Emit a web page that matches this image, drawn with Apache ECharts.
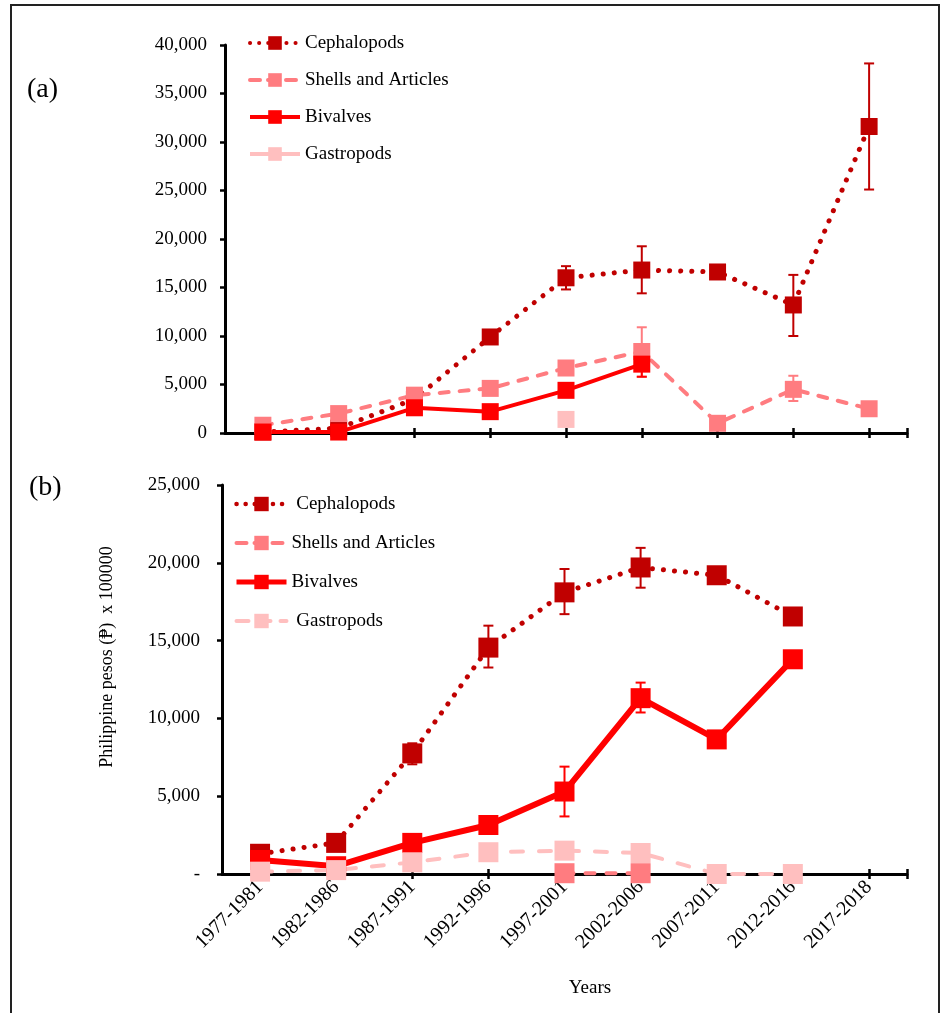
<!DOCTYPE html>
<html>
<head>
<meta charset="utf-8">
<script src="https://cdn.jsdelivr.net/npm/echarts@6.0.0/dist/echarts.min.js"></script>
<style>
html,body{margin:0;padding:0;background:#fff;}
#chart{width:941px;height:1013px;}
</style>
</head>
<body>
<div id="chart"></div>
<script>
// ---------- data ----------
const categories = ['1977-1981','1982-1986','1987-1991','1992-1996','1997-2001','2002-2006','2007-2011','2012-2016','2017-2018'];

// Panel (a)
const cephA    = [100, 500, 3500, 9900, 16000, 16800, 16600, 13200, 31600];
const shellsA  = [800, 2000, 3900, 4600, 6700, 8400, 1000, 4500, 2500];
const bivalvesA= [100, 100, 2600, 2200, 4400, 7100, null, null, null];
const gastroA  = [null, null, null, null, 1400, null, null, null, null];
// error bars [categoryIndex, low, high]
const cephErrA    = [[4, 14800, 17200], [5, 14400, 19250], [7, 10000, 16300], [8, 25100, 38100]];
const shellsErrA  = [[5, 5800, 10900], [7, 3300, 5900]];
const bivalvesErrA= [[5, 5800, 8400]];

// Panel (b)
const cephB    = [1300, 2000, 7750, 14550, 18100, 19700, 19200, 16550, null];
const shellsB  = [null, null, null, null, 50, 50, null, null, null];
const bivalvesB= [900, 500, 2000, 3150, 5300, 11300, 8650, 13800, null];
const gastroB  = [150, 250, 750, 1400, 1500, 1350, 0, 0, null];
const cephErrB    = [[2, 7050, 8400], [3, 13270, 15960], [4, 16700, 19600], [5, 18400, 20960]];
const bivalvesErrB= [[4, 3700, 6900], [5, 10380, 12300]];

const tickLabelsA = ['0','5,000','10,000','15,000','20,000','25,000','30,000','35,000','40,000'];
const tickLabelsB = ['-','5,000','10,000','15,000','20,000','25,000'];

// ---------- styles ----------
const FONT = 'Liberation Serif, Times New Roman, serif';
const C_CEPH = '#C00000', C_SHELL = '#FF7C80', C_BIV = '#FF0000', C_GAS = '#FFBFBF';

function errSeries(data, color, xi, yi, cap) {
  return {
    type: 'custom', xAxisIndex: xi, yAxisIndex: yi, silent: true, z: 3,
    data: data, encode: {x: 0, y: [1, 2]},
    renderItem: function (params, api) {
      const x = api.value(0);
      const lo = api.coord([x, api.value(1)]);
      const hi = api.coord([x, api.value(2)]);
      const st = {stroke: color, lineWidth: 2};
      return {type: 'group', children: [
        {type: 'line', shape: {x1: lo[0], y1: lo[1], x2: hi[0], y2: hi[1]}, style: st},
        {type: 'line', shape: {x1: lo[0]-cap, y1: lo[1], x2: lo[0]+cap, y2: lo[1]}, style: st},
        {type: 'line', shape: {x1: hi[0]-cap, y1: hi[1], x2: hi[0]+cap, y2: hi[1]}, style: st}
      ]};
    }
  };
}

function lineSeries(name, data, color, lineStyle, xi, yi, size) {
  return {
    name: name, type: 'line', data: data, xAxisIndex: xi, yAxisIndex: yi,
    symbol: 'rect', symbolSize: size, showAllSymbol: true, clip: false,
    itemStyle: {color: color},
    lineStyle: Object.assign({color: color}, lineStyle),
    emphasis: {disabled: true}, animation: false
  };
}

const dotted = (w) => ({width: w, type: [0.1, 11], cap: 'round'});
const dashed = (w, d) => ({width: w, type: d, cap: 'round'});
const solid  = (w) => ({width: w, type: 'solid'});

const TICK = {color: '#000', width: 2.5};
const axisLineStyle = {color: '#000', width: 3};

// tick positions along the category axis: centre of each category, plus the far end
const xTickPos = categories.map((c, i) => i + 0.5).concat([categories.length]);

const xMain = (gi, showLabels) => ({
  type: 'category', gridIndex: gi, data: categories, boundaryGap: true,
  axisLine: {show: true, lineStyle: axisLineStyle, onZero: false},
  axisTick: {show: false},
  axisLabel: showLabels ? {show: true, rotate: 45, fontFamily: FONT, fontSize: 20, color: '#000', margin: 10} : {show: false},
  splitLine: {show: false}
});
const xTicks = (gi, inside) => ({
  type: 'value', gridIndex: gi, min: 0, max: categories.length, position: 'bottom',
  axisLine: {show: false}, axisLabel: {show: false}, splitLine: {show: false},
  axisTick: {show: true, inside: inside, length: 5, lineStyle: TICK, customValues: xTickPos}
});
const yMain = (gi, max, labels, margin) => ({
  type: 'value', gridIndex: gi, min: 0, max: max, interval: 5000,
  axisLine: {show: true, lineStyle: axisLineStyle},
  axisTick: {show: true, length: 5, lineStyle: TICK},
  axisLabel: {fontFamily: FONT, fontSize: 19, color: '#000', margin: margin,
    formatter: (v) => labels[Math.round(v / 5000)]},
  splitLine: {show: false}
});
const yInside = (gi, max) => ({
  type: 'value', gridIndex: gi, min: 0, max: max, interval: 5000,
  axisLine: {show: false}, axisLabel: {show: false}, splitLine: {show: false},
  axisTick: {show: true, inside: true, length: 5, lineStyle: TICK}
});

const legText = {fontFamily: FONT, fontSize: 19, color: '#000', lineHeight: 20};

const option = {
  backgroundColor: '#fff',
  animation: false,
  graphic: [
    {type: 'rect', shape: {x: 11, y: 5, width: 928, height: 1020}, style: {fill: 'none', stroke: '#222', lineWidth: 2}, silent: true},
    {type: 'text', x: 27, y: 90, style: {text: '(a)', font: '28px ' + FONT, fill: '#000', verticalAlign: 'middle'}},
    {type: 'text', x: 29, y: 488, style: {text: '(b)', font: '28px ' + FONT, fill: '#000', verticalAlign: 'middle'}},
    {type: 'text', x: 107, y: 657, rotation: Math.PI / 2, style: {text: 'Philippine pesos (₱)  x 100000', font: '18px ' + FONT, fill: '#000', align: 'center', verticalAlign: 'middle'}},
    {type: 'text', x: 590, y: 988, style: {text: 'Years', font: '19px ' + FONT, fill: '#000', align: 'center', verticalAlign: 'middle'}}
  ],
  legend: [
    {
      orient: 'vertical', left: 243, top: 28, itemWidth: 50, itemHeight: 17, itemGap: 17,
      textStyle: legText, selectedMode: false,
      data: [
        {name: 'Cephalopods', lineStyle: {width: 4, type: [0.1, 9], cap: 'round'}},
        {name: 'Shells and Articles', lineStyle: {width: 4, type: [10, 8], cap: 'round'}},
        {name: 'Bivalves', lineStyle: {width: 4, type: 'solid'}},
        {name: 'Gastropods', lineStyle: {width: 4, type: 'solid'}}
      ]
    },
    {
      orient: 'vertical', left: 229, top: 489, itemWidth: 50, itemHeight: 18, itemGap: 19,
      textStyle: legText, selectedMode: false,
      data: [
        {name: ' Cephalopods', lineStyle: {width: 4.5, type: [0.1, 9], cap: 'round'}},
        {name: 'Shells and Articles ', lineStyle: {width: 4, type: [10, 8], cap: 'round'}},
        {name: 'Bivalves ', lineStyle: {width: 5, type: 'solid'}},
        {name: ' Gastropods', lineStyle: {width: 4, type: [12, 10], cap: 'round'}}
      ]
    }
  ],
  grid: [
    {left: 225, right: 34, top: 45, height: 388},
    {left: 222, right: 34, top: 485, height: 389}
  ],
  xAxis: [xMain(0, false), xMain(1, true), xTicks(0, false), xTicks(0, true), xTicks(1, false), xTicks(1, true)],
  yAxis: [yMain(0, 40000, tickLabelsA, 18), yMain(1, 25000, tickLabelsB, 22), yInside(0, 40000), yInside(1, 25000)],
  series: [
    // panel (a)
    lineSeries('Cephalopods', cephA, C_CEPH, dotted(5), 0, 0, 17),
    errSeries(cephErrA, C_CEPH, 0, 0, 5),
    lineSeries('Shells and Articles', shellsA, C_SHELL, dashed(4, [9, 11]), 0, 0, 17),
    errSeries(shellsErrA, C_SHELL, 0, 0, 5),
    lineSeries('Bivalves', bivalvesA, C_BIV, solid(4), 0, 0, 17),
    errSeries(bivalvesErrA, C_BIV, 0, 0, 5),
    lineSeries('Gastropods', gastroA, C_GAS, solid(4), 0, 0, 17),
    // panel (b)
    lineSeries(' Cephalopods', cephB, C_CEPH, dotted(5), 1, 1, 20),
    errSeries(cephErrB, C_CEPH, 1, 1, 5),
    lineSeries('Shells and Articles ', shellsB, C_SHELL, dashed(4, [9, 12]), 1, 1, 20),
    lineSeries('Bivalves ', bivalvesB, C_BIV, solid(6), 1, 1, 20),
    errSeries(bivalvesErrB, C_BIV, 1, 1, 5),
    lineSeries(' Gastropods', gastroB, C_GAS, dashed(4, [12, 16]), 1, 1, 20)
  ]
};

const chart = echarts.init(document.getElementById('chart'), null, {renderer: 'canvas'});
chart.setOption(option);
</script>
</body>
</html>
